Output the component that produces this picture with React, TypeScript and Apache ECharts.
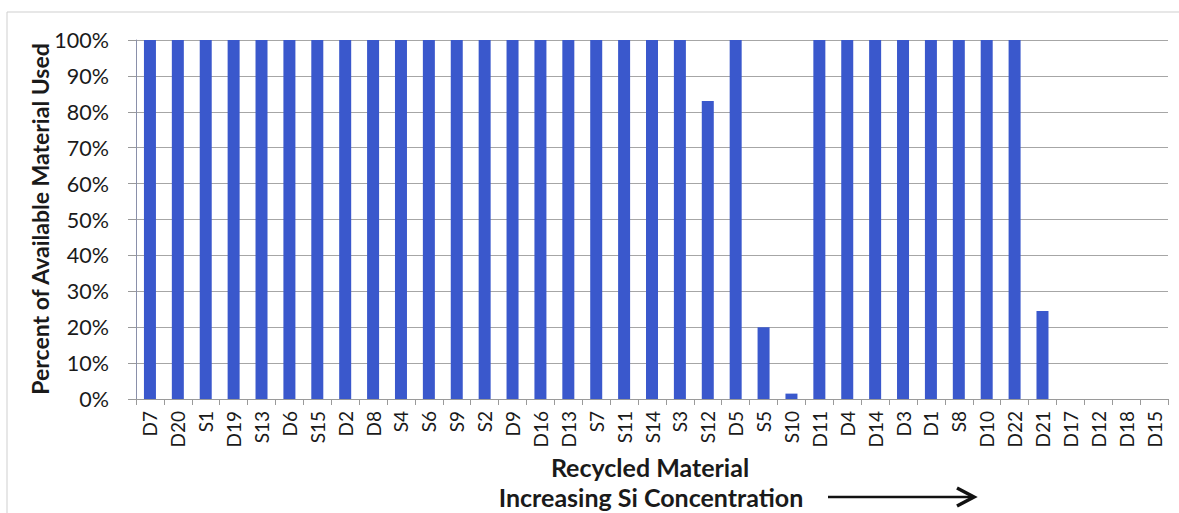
import React, { useEffect, useRef } from "react";
import * as echarts from "echarts";

const categories = [
  "D7", "D20", "S1", "D19", "S13", "D6", "S15", "D2", "D8", "S4", "S6", "S9", "S2", "D9", "D16", "D13",
  "S7", "S11", "S14", "S3", "S12", "D5", "S5", "S10", "D11", "D4", "D14", "D3", "D1", "S8", "D10", "D22",
  "D21", "D17", "D12", "D18", "D15",
];
const percentUsed = [
  100, 100, 100, 100, 100, 100, 100, 100, 100, 100, 100, 100, 100, 100, 100, 100,
  100, 100, 100, 100, 83, 100, 20, 1.5, 100, 100, 100, 100, 100, 100, 100, 100,
  24.5, 0, 0, 0, 0,
];
const yTitle = "Percent of Available Material Used";
const xTitle1 = "Recycled Material";
const xTitle2 = "Increasing Si Concentration";

const FONT = "Lato, 'Open Sans', sans-serif";

export default function App() {
  const ref = useRef<HTMLDivElement>(null);
  useEffect(() => {
    if (!ref.current) return;
    const chart = echarts.init(ref.current, null, { renderer: "svg" });
    chart.setOption({
      animation: false,
      backgroundColor: "#ffffff",
      grid: { left: 136, right: 11, top: 40, bottom: 114, containLabel: false },
      xAxis: {
        type: "category",
        data: categories,
        axisLine: { show: true, lineStyle: { color: "#9a9a9a", width: 1 } },
        axisTick: { show: true, alignWithLabel: false, length: 6, lineStyle: { color: "#9a9a9a" } },
        axisLabel: {
          interval: 0,
          rotate: 90,
          fontSize: 19,
          color: "#1a1a1a",
          fontFamily: FONT,
          margin: 12,
        },
        splitLine: { show: false },
      },
      yAxis: {
        type: "value",
        min: 0,
        max: 100,
        interval: 10,
        axisLine: { show: true, lineStyle: { color: "#8a90aa", width: 1 } },
        axisTick: { show: true, length: 8, lineStyle: { color: "#9a9a9a" } },
        axisLabel: {
          formatter: "{value}%",
          fontSize: 21.5,
          color: "#1a1a1a",
          fontFamily: FONT,
          margin: 27,
        },
        splitLine: { show: true, lineStyle: { color: "#a6a6a6", width: 1 } },
      },
      series: [
        {
          type: "bar",
          data: percentUsed,
          barWidth: 12,
          itemStyle: { color: "#3a58cc" },
        },
      ],
      graphic: [
        { type: "line", shape: { x1: 7, y1: 12, x2: 1179, y2: 12 }, style: { stroke: "#cfcfcf", lineWidth: 1 } },
        { type: "line", shape: { x1: 7, y1: 12, x2: 7, y2: 513 }, style: { stroke: "#cfcfcf", lineWidth: 1 } },
        {
          type: "text",
          x: 40,
          y: 219,
          rotation: Math.PI / 2,
          style: {
            text: yTitle,
            font: `bold 23px ${FONT}`,
            fill: "#1a1a1a",
            align: "center",
            verticalAlign: "middle",
          },
        },
        {
          type: "text",
          x: 650,
          y: 467,
          style: {
            text: xTitle1,
            font: `bold 25px ${FONT}`,
            fill: "#1a1a1a",
            align: "center",
            verticalAlign: "middle",
          },
        },
        {
          type: "text",
          x: 651,
          y: 497,
          style: {
            text: xTitle2,
            font: `bold 25px ${FONT}`,
            fill: "#1a1a1a",
            align: "center",
            verticalAlign: "middle",
          },
        },
        { type: "line", shape: { x1: 828, y1: 497, x2: 973, y2: 497 }, style: { stroke: "#111", lineWidth: 2.5 } },
        {
          type: "polyline",
          shape: { points: [[957, 488], [974, 497], [957, 506]] },
          style: { stroke: "#111", lineWidth: 3.5, fill: null },
        },
      ],
    });
    return () => chart.dispose();
  }, []);
  return (
    <div
      ref={ref}
      style={{ position: "absolute", left: 0, top: 0, width: 1179, height: 513 }}
    />
  );
}
